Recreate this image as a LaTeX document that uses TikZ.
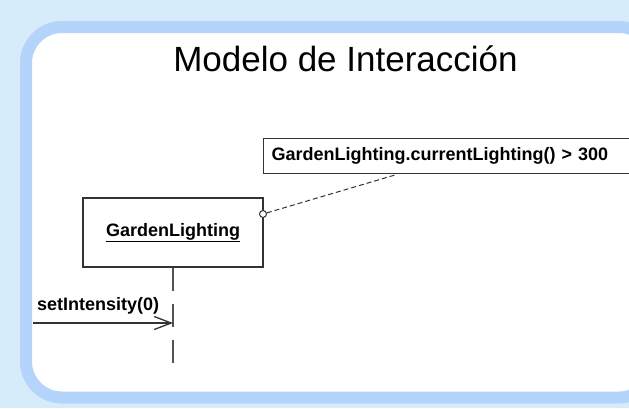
\documentclass[tikz,border=0pt]{standalone}
\usepackage{fontspec}
\setmainfont{Liberation Sans}
\usetikzlibrary{arrows.meta,calc}
\definecolor{pagebg}{HTML}{D7ECFA}
\definecolor{framebl}{HTML}{B4D4FB}
\definecolor{inkgray}{HTML}{333333}
\begin{document}
\begin{tikzpicture}[x=1pt,y=-1pt,
  objbox/.style={draw=inkgray, line width=1.4pt, fill=white, inner sep=0pt,
    minimum width=180pt, minimum height=69pt, font=\fontsize{18}{20}\selectfont\bfseries},
  notebox/.style={draw=inkgray, line width=1.4pt, fill=white, inner xsep=8pt, inner ysep=0pt,
    minimum height=35pt, text width=360pt, align=left, font=\fontsize{18}{20}\selectfont\bfseries},
  lifeline/.style={draw=inkgray!85, line width=1.5pt, dash pattern=on 23pt off 13pt},
  msgline/.style={draw=inkgray, line width=1.3pt, -{Straight Barb[length=17pt,width=13pt,line width=1.3pt]}},
  notelink/.style={draw=inkgray, line width=1pt, dash pattern=on 5pt off 3pt},
  pinmark/.style={circle, draw=inkgray, line width=1pt, fill=white, minimum size=7pt, inner sep=0pt},
  lbl/.style={font=\fontsize{18}{20}\selectfont\bfseries, inner sep=0pt}]
  % page and rounded frame
  \fill[pagebg] (0,0) rectangle (629,408);
  \clip (0,0) rectangle (629,408);
  \draw[framebl, line width=12pt, fill=white, rounded corners=36pt] (26,27) rectangle (655,397.5);
  % title
  \node[inner sep=0pt, font=\fontsize{35}{38}\selectfont] (title) at (345.5,59) {Modelo de Interacción};
  % object and its lifeline
  \node[objbox] (obj) at (173,232.5) {\underline{GardenLighting}};
  \coordinate (lifeEnd) at (173,363);
  \draw[lifeline] (obj.south) -- (lifeEnd);
  % incoming message
  \coordinate (msgStart) at (33,323);
  \coordinate (msgEnd) at (obj.south |- msgStart);
  \draw[msgline] (msgStart) -- (msgEnd);
  \node[lbl, anchor=base west] (msgLabel) at (37,310) {setIntensity(0)};
  % constraint note
  \node[notebox, anchor=north west] (note) at (263,138) {GardenLighting.currentLighting() > 300};
  \node[pinmark] (pin) at (263,214) {};
  \coordinate (noteFoot) at ($(note.south west)+(134,0)$);
  \draw[notelink] (pin) -- (noteFoot);
\end{tikzpicture}
\end{document}
